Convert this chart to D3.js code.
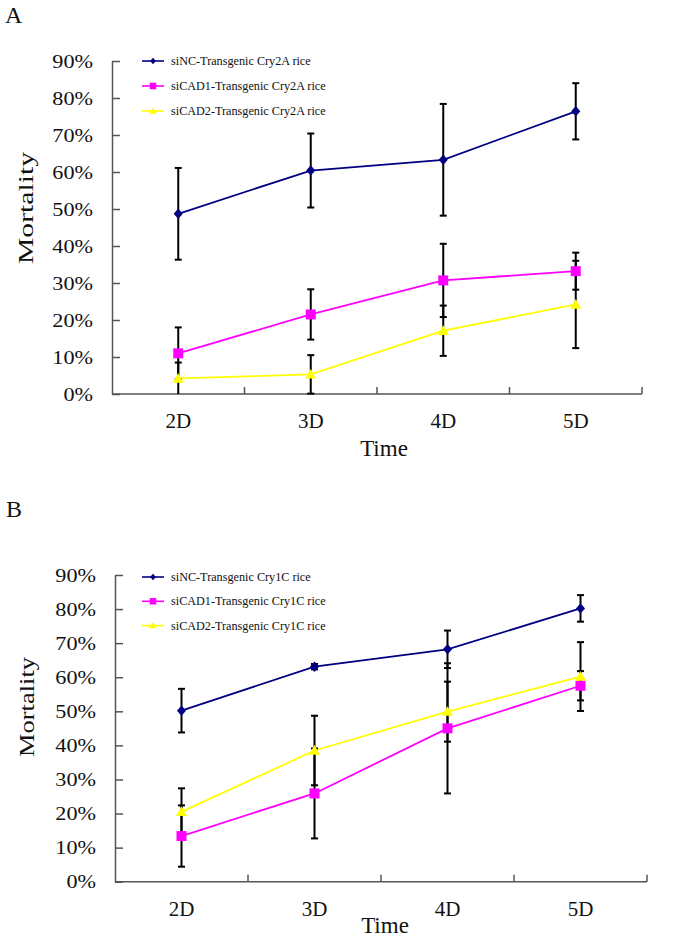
<!DOCTYPE html>
<html>
<head>
<meta charset="utf-8">
<script src="https://cdn.jsdelivr.net/npm/d3@7"></script>
<style>
  html, body { margin: 0; padding: 0; background: #fff; }
  svg { display: block; }
  text { font-family: "Liberation Serif", "Times New Roman", serif; fill: #111; }
</style>
</head>
<body>
<svg id="chart" width="675" height="938"></svg>
<script>
// ---------- DATA ----------
const categories = ["2D", "3D", "4D", "5D"];
const yTicks = [0, 10, 20, 30, 40, 50, 60, 70, 80, 90];
const yTickLabels = ["0%", "10%", "20%", "30%", "40%", "50%", "60%", "70%", "80%", "90%"];

// Panel A (Cry2A)
const namesA = ["siNC-Transgenic Cry2A rice", "siCAD1-Transgenic Cry2A rice", "siCAD2-Transgenic Cry2A rice"];
const aNC = [48.7, 60.4, 63.3, 76.4];
const aNCErr = [12.4, 10.0, 15.1, 7.6];
const aCAD1 = [11.0, 21.5, 30.7, 33.2];
const aCAD1Err = [7.0, 6.8, 9.9, 5.0];
const aCAD2 = [4.2, 5.3, 17.1, 24.2];
const aCAD2Err = [4.3, 5.2, 6.8, 11.8];

// Panel B (Cry1C)
const namesB = ["siNC-Transgenic Cry1C rice", "siCAD1-Transgenic Cry1C rice", "siCAD2-Transgenic Cry1C rice"];
const bNC = [50.2, 63.1, 68.2, 80.2];
const bNCErr = [6.4, 0.8, 5.5, 3.9];
const bCAD1 = [13.4, 25.9, 45.0, 57.5];
const bCAD1Err = [9.0, 13.2, 19.1, 4.3];
const bCAD2 = [20.5, 38.5, 49.9, 60.2];
const bCAD2Err = [6.9, 10.2, 8.8, 10.1];

// ---------- STYLE ----------
const colors = ["#000080", "#FF00FF", "#FFFF00"];
const shapes = ["diamond", "square", "triangle"];
const axisColor = "#555";

const svg = d3.select("#chart");

function markerPath(shape, s) {
  if (shape === "diamond") {
    return `M0,${-s * 0.55}L${s * 0.48},0L0,${s * 0.55}L${-s * 0.48},0Z`;
  } else if (shape === "square") {
    const h = s / 2;
    return `M${-h},${-h}H${h}V${h}H${-h}Z`;
  } else {
    return `M0,${-s * 0.55}L${s * 0.55},${s * 0.42}L${-s * 0.55},${s * 0.42}Z`;
  }
}

function drawPanel(cfg) {
  const g = svg.append("g");
  const x = d3.scaleBand().domain(categories).range([cfg.x0, cfg.x1]);
  const y = d3.scaleLinear().domain([0, 90]).range([cfg.yb, cfg.yt]);

  // panel letter
  g.append("text").attr("x", cfg.letterX).attr("y", cfg.letterY)
    .attr("font-size", 24).text(cfg.letter);

  // Y axis
  const yAxis = d3.axisLeft(y).tickValues(yTicks)
    .tickFormat((d, i) => yTickLabels[i])
    .tickSizeInner(-8).tickSizeOuter(0).tickPadding(0);
  const ya = g.append("g").attr("transform", `translate(${cfg.x0},0)`).call(yAxis);
  ya.select(".domain").attr("stroke", axisColor).attr("stroke-width", 1.5);
  ya.selectAll(".tick line").attr("stroke", axisColor).attr("stroke-width", 1.5);
  ya.selectAll(".tick text")
    .attr("font-family", "Liberation Serif, Times New Roman, serif")
    .attr("font-size", 18.5).attr("fill", "#111")
    .attr("x", -19 / 1.2).attr("dy", "0.34em")
    .attr("transform", "scale(1.2,1)");

  // X axis: line with inside ticks at category boundaries
  const xa = g.append("g");
  xa.append("line").attr("x1", cfg.x0).attr("x2", cfg.x1)
    .attr("y1", cfg.yb).attr("y2", cfg.yb)
    .attr("stroke", axisColor).attr("stroke-width", 1.5);
  const bounds = categories.slice(1).map(c => x(c)).concat([x.range()[1]]);
  xa.selectAll("line.tk").data(bounds).join("line").attr("class", "tk")
    .attr("x1", d => d).attr("x2", d => d)
    .attr("y1", cfg.yb).attr("y2", cfg.yb - 7)
    .attr("stroke", axisColor).attr("stroke-width", 1.5);
  xa.selectAll("text.cat").data(categories).join("text").attr("class", "cat")
    .attr("x", d => x(d) + x.bandwidth() / 2)
    .attr("y", cfg.yb + 34)
    .attr("text-anchor", "middle").attr("font-size", 21).text(d => d);

  // axis titles
  g.append("text").attr("x", cfg.timeX).attr("y", cfg.timeY)
    .attr("text-anchor", "middle").attr("font-size", 23).text("Time");
  g.append("text")
    .attr("transform", `translate(${cfg.mortX},${cfg.mortY}) rotate(-90)`)
    .attr("text-anchor", "middle").attr("font-size", 21)
    .attr("textLength", cfg.mortLen).attr("lengthAdjust", "spacingAndGlyphs")
    .text("Mortality");

  const cx = d => x(d) + x.bandwidth() / 2;
  const line = d3.line().x(d => cx(d.cat)).y(d => y(d.v));

  const series = cfg.series.map((s, i) => ({
    name: s.name, color: colors[i], shape: shapes[i],
    pts: categories.map((c, j) => ({ cat: c, v: s.vals[j], e: s.errs[j] }))
  }));

  // lines
  series.forEach(s => {
    g.append("path").datum(s.pts).attr("d", line)
      .attr("fill", "none").attr("stroke", s.color).attr("stroke-width", 1.8);
  });
  // error bars
  series.forEach(s => {
    const eb = g.append("g");
    s.pts.forEach(p => {
      const lo = y(Math.max(0, p.v - p.e)), hi = y(p.v + p.e), px = cx(p.cat);
      eb.append("line").attr("x1", px).attr("x2", px).attr("y1", lo).attr("y2", hi)
        .attr("stroke", "#000").attr("stroke-width", 2);
      [lo, hi].forEach(yy => {
        if (p.v - p.e <= 0 && yy === lo) return;
        eb.append("line").attr("x1", px - 3.5).attr("x2", px + 3.5)
          .attr("y1", yy).attr("y2", yy).attr("stroke", "#000").attr("stroke-width", 2);
      });
    });
  });
  // markers
  series.forEach(s => {
    g.selectAll(null).data(s.pts).join("path")
      .attr("transform", p => `translate(${cx(p.cat)},${y(p.v)})`)
      .attr("d", markerPath(s.shape, s.shape === "diamond" ? 9.5 : 10))
      .attr("fill", s.color);
  });

  // legend
  const lg = g.append("g");
  series.forEach((s, i) => {
    const ly = cfg.legY + i * cfg.legStep;
    lg.append("line").attr("x1", cfg.legX).attr("x2", cfg.legX + 22)
      .attr("y1", ly).attr("y2", ly).attr("stroke", s.color).attr("stroke-width", 1.6);
    lg.append("path").attr("transform", `translate(${cfg.legX + 11},${ly})`)
      .attr("d", markerPath(s.shape, s.shape === "diamond" ? 6 : 6.5)).attr("fill", s.color);
    lg.append("text").attr("x", cfg.legX + 29).attr("y", ly + 4)
      .attr("font-size", 12.2).attr("fill", "#222").text(s.name);
  });
}

drawPanel({
  letter: "A", letterX: 5, letterY: 23,
  x0: 112, x1: 642, yb: 394, yt: 61,
  timeX: 384, timeY: 456, mortX: 33, mortY: 208, mortLen: 112,
  legX: 142, legY: 61, legStep: 25,
  series: [
    { name: namesA[0], vals: aNC, errs: aNCErr },
    { name: namesA[1], vals: aCAD1, errs: aCAD1Err },
    { name: namesA[2], vals: aCAD2, errs: aCAD2Err }
  ]
});

drawPanel({
  letter: "B", letterX: 6, letterY: 517,
  x0: 115, x1: 647, yb: 881.7, yt: 575,
  timeX: 385, timeY: 933, mortX: 34, mortY: 707, mortLen: 100,
  legX: 142, legY: 577, legStep: 24.3,
  series: [
    { name: namesB[0], vals: bNC, errs: bNCErr },
    { name: namesB[1], vals: bCAD1, errs: bCAD1Err },
    { name: namesB[2], vals: bCAD2, errs: bCAD2Err }
  ]
});
</script>
</body>
</html>
